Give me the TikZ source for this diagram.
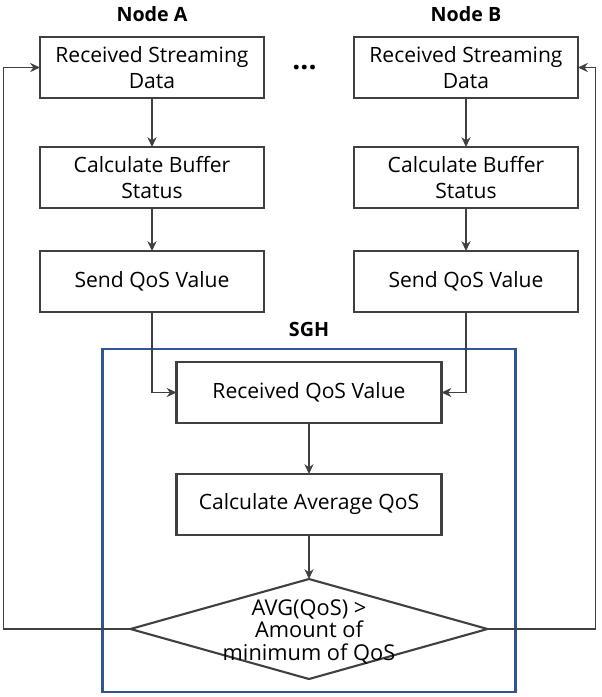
\documentclass[tikz,border=0pt]{standalone}
\usepackage{fontspec}
\setmainfont{Open Sans}
\usepackage{xcolor}
\usetikzlibrary{arrows.meta, calc, positioning, shapes.geometric, fit}

\definecolor{linegray}{HTML}{404040}
\definecolor{sghblue}{HTML}{2F5597}
\newcommand{\boxfont}{\fontsize{15pt}{18pt}\selectfont}
\newcommand{\diafont}{\fontsize{15.5pt}{16pt}\selectfont}
\newcommand{\headfont}{\fontsize{14pt}{17pt}\selectfont\bfseries}

\begin{document}
\begin{tikzpicture}[node distance=1.2cm, >={Stealth[length=7pt,width=6.5pt]}, line width=1.2pt,
  procbox/.style={draw=linegray, line width=1.5pt, rectangle, minimum width=5.6cm, minimum height=1.525cm, align=center, font=\boxfont, inner sep=2pt, outer sep=0pt},
  sghbox/.style={procbox, minimum width=6.625cm},
  decide/.style={draw=linegray, line width=1.5pt, diamond, minimum width=8.925cm, minimum height=2.5cm, inner sep=0pt, outer sep=0pt},
  headlabel/.style={font=\headfont, inner sep=0pt},
  flow/.style={->, draw=linegray}]
\useasboundingbox (0,0) rectangle (15.05,-17.425);

% Nodes
\node[procbox] (A1) at (3.8,-1.6875) {Received Streaming\\Data};
\node[procbox, below=1.225cm of A1] (A2) {Calculate Buffer\\Status};
\node[procbox, below=1.075cm of A2] (A3) {Send QoS Value};
\node[procbox, right=2.25cm of A1] (B1) {Received Streaming\\Data};
\node[procbox, below=1.225cm of B1] (B2) {Calculate Buffer\\Status};
\node[procbox, below=1.075cm of B2] (B3) {Send QoS Value};

\node[headlabel, above=0.35cm of A1] (nodeA) {Node A};
\node[headlabel, above=0.35cm of B1] (nodeB) {Node B};
\node[inner sep=0pt, font=\fontsize{20pt}{22pt}\selectfont\bfseries] (dots) at ($(A1.east)!0.45!(B1.west)$) {...};

\node[sghbox, anchor=north] (recv) at ($(A3.south)!0.5!(B3.south)+(0,-1.25)$) {Received QoS Value};
\node[sghbox, below=1.275cm of recv] (avg) {Calculate Average QoS};
\node[decide, below=1.1cm of avg, label={[align=center, font=\diafont, yshift=-2pt]center:{AVG(QoS) >\\Amount of\\minimum of QoS}}] (chk) {};

\node[draw=sghblue, line width=1.7pt, fit=(recv)(chk), inner xsep=0.7cm, inner ysep=0.32cm] (sgh) {};
\node[headlabel, above=0.25cm of sgh] (sghlabel) {SGH};

% Arrows
\draw[flow] (A1) -- (A2);
\draw[flow] (A2) -- (A3);
\draw[flow] (B1) -- (B2);
\draw[flow] (B2) -- (B3);
\draw[flow] (A3.south) |- (recv.west);
\draw[flow] (B3.south) |- (recv.east);
\draw[flow] (recv) -- (avg);
\draw[flow] (avg) -- (chk);

% Feedback loops
\draw[flow] (chk.west) -- ++(-3.175,0) |- (A1.west);
\draw[flow] (chk.east) -- ++(2.7,0) |- (B1.east);
\end{tikzpicture}
\end{document}
